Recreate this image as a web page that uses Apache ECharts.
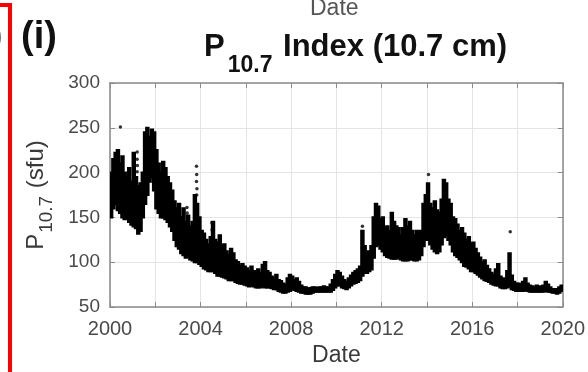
<!DOCTYPE html>
<html>
<head>
<meta charset="utf-8">
<script src="https://cdn.jsdelivr.net/npm/echarts@6/dist/echarts.min.js"></script>
<style>
  html, body { margin: 0; padding: 0; background: #fff; }
  #chart { width: 588px; height: 372px; }
</style>
</head>
<body>
<div id="chart"></div>
<script>
// Daily 10.7 cm solar flux, summarised as the low / high envelope of the
// daily values in consecutive 0.1-year bins starting at 2000.0 (sfu).
const binStart = 2000;
const binWidth = 0.1;

const fluxHigh = [
  200, 215, 222, 225, 210, 218, 200, 195, 205, 190,   // 2000
  222, 195, 185, 188, 200, 245, 250, 240, 248, 245,   // 2001
  225, 210, 200, 212, 205, 195, 188, 180, 168, 160,   // 2002
  165, 150, 160, 145, 152, 140, 145, 175, 165, 150,   // 2003
  135, 132, 125, 120, 128, 145, 125, 122, 130, 118,   // 2004
  120, 112, 108, 115, 110, 102, 100, 96, 98, 95,      // 2005
  93, 90, 95, 90, 88, 92, 88, 97, 100, 90,            // 2006
  88, 84, 82, 86, 80, 79, 76, 75, 82, 86,             // 2007
  84, 80, 82, 78, 74, 72, 72, 70, 71, 72,             // 2008
  72, 71, 72, 72, 73, 72, 72, 75, 80, 86,             // 2009
  90, 88, 84, 80, 78, 82, 85, 88, 90, 92,             // 2010
  95, 135, 118, 110, 112, 118, 150, 165, 162, 148,    // 2011
  150, 138, 140, 135, 155, 145, 140, 138, 130, 138,   // 2012
  148, 140, 145, 135, 130, 135, 132, 135, 165, 175,   // 2013
  188, 165, 160, 168, 158, 155, 170, 192, 188, 170,   // 2014
  165, 150, 148, 142, 135, 138, 132, 125, 128, 120,   // 2015
  122, 115, 110, 105, 100, 102, 96, 92, 88, 86,       // 2016
  92, 98, 84, 82, 80, 90, 110, 85, 78, 76,            // 2017
  76, 75, 78, 82, 76, 74, 73, 72, 74, 72,             // 2018
  73, 74, 78, 75, 72, 70, 70, 70, 72, 74              // 2019
];

const fluxLow = [
  150, 160, 165, 158, 155, 150, 148, 150, 145, 142,   // 2000
  140, 138, 132, 135, 150, 165, 175, 190, 195, 180,   // 2001
  160, 155, 150, 150, 148, 145, 140, 135, 125, 118,   // 2002
  115, 110, 108, 105, 106, 103, 102, 100, 100, 98,    // 2003
  96, 93, 92, 90, 90, 90, 88, 85, 85, 84,             // 2004
  83, 82, 80, 80, 80, 78, 77, 76, 76, 75,             // 2005
  74, 73, 74, 73, 72, 72, 72, 73, 72, 72,             // 2006
  72, 71, 70, 70, 68, 67, 66, 66, 67, 68,             // 2007
  70, 69, 68, 67, 66, 66, 65, 65, 65, 66,             // 2008
  67, 67, 67, 67, 67, 67, 67, 67, 69, 72,             // 2009
  74, 74, 72, 71, 70, 72, 74, 76, 77, 78,             // 2010
  80, 85, 88, 88, 90, 92, 105, 118, 120, 115,         // 2011
  112, 108, 106, 105, 104, 104, 104, 105, 103, 102,   // 2012
  102, 102, 103, 103, 102, 102, 103, 108, 118, 125,   // 2013
  125, 120, 115, 112, 110, 112, 120, 128, 130, 125,   // 2014
  120, 112, 108, 106, 103, 100, 96, 95, 93, 90,       // 2015
  90, 88, 86, 84, 82, 80, 79, 78, 76, 75,             // 2016
  74, 74, 72, 71, 71, 72, 73, 70, 69, 68,             // 2017
  68, 68, 68, 69, 68, 67, 67, 67, 67, 67,             // 2018
  67, 67, 68, 67, 67, 66, 66, 65, 66, 68              // 2019
];

// Isolated daily values standing above the main band (decimal year, sfu)
const isolatedDays = [
  [2000.46, 251], [2001.2, 223], [2001.2, 215], [2001.21, 208], [2001.2, 201],
  [2003.4, 161], [2003.41, 155], [2003.82, 207], [2003.83, 198], [2003.82, 190],
  [2003.84, 182], [2003.83, 175], [2004.5, 144], [2004.51, 136],
  [2011.15, 140], [2014.07, 198], [2017.68, 134]
];

const yearTicks = [2000, 2004, 2008, 2012, 2016, 2020];
const fluxTicks = [50, 100, 150, 200, 250, 300];

const bands = fluxHigh.map((hi, i) => [binStart + (i + 0.5) * binWidth, fluxLow[i], hi]);

const axisGray = '#8a8a8a';
const gridGray = '#e4e4e4';
const labelColor = '#4a4a4a';
const font = '"Liberation Sans", Arial, Helvetica, sans-serif';

const chart = echarts.init(document.getElementById('chart'), null, { renderer: 'canvas' });

const xBase = {
  type: 'value', min: yearTicks[0], max: yearTicks[yearTicks.length - 1], interval: 2
};
const yBase = {
  type: 'value', min: fluxTicks[0], max: fluxTicks[fluxTicks.length - 1], interval: 50
};

chart.setOption({
  animation: false,
  backgroundColor: '#fff',
  textStyle: { fontFamily: font },
  title: {
    left: 199,
    top: 27,
    text: '{p|P}{s|10.7}{p| Index (10.7 cm)}',
    textStyle: {
      rich: {
        p: { fontFamily: font, fontSize: 31, fontWeight: 'bold', color: '#111', lineHeight: 31, verticalAlign: 'top' },
        s: { fontFamily: font, fontSize: 23, fontWeight: 'bold', color: '#111', lineHeight: 23, verticalAlign: 'top', padding: [22, 2, 0, 3] }
      }
    }
  },
  grid: { left: 110, right: 22, top: 83, bottom: 65, show: false },
  xAxis: [
    Object.assign({}, xBase, {
      position: 'bottom',
      name: 'Date',
      nameLocation: 'middle',
      nameGap: 37,
      nameTextStyle: { fontFamily: font, fontSize: 23, color: '#3a3a3a' },
      axisLine: { show: true, onZero: false, lineStyle: { color: axisGray, width: 1.5 } },
      axisTick: { show: true, inside: true, length: 5, lineStyle: { color: axisGray } },
      axisLabel: {
        fontFamily: font, fontSize: 20, color: labelColor, margin: 12,
        formatter: v => (yearTicks.indexOf(v) >= 0 ? String(v) : '')
      },
      splitLine: { show: true, lineStyle: { color: gridGray, width: 1 } }
    }),
    Object.assign({}, xBase, {
      position: 'top',
      axisLine: { show: true, onZero: false, lineStyle: { color: axisGray, width: 1.5 } },
      axisTick: { show: true, inside: true, length: 5, lineStyle: { color: axisGray } },
      axisLabel: { show: false },
      splitLine: { show: false }
    })
  ],
  yAxis: [
    Object.assign({}, yBase, {
      position: 'left',
      name: '{p|P}{s|10.7}{p| (sfu)}',
      nameLocation: 'middle',
      nameRotate: 90,
      nameGap: 62,
      nameTextStyle: {
        rich: {
          p: { fontFamily: font, fontSize: 24, color: '#3a3a3a', lineHeight: 24, verticalAlign: 'top' },
          s: { fontFamily: font, fontSize: 19, color: '#3a3a3a', lineHeight: 19, verticalAlign: 'top', padding: [13, 1, 0, 1] }
        }
      },
      axisLine: { show: true, onZero: false, lineStyle: { color: axisGray, width: 1.5 } },
      axisTick: { show: true, inside: true, length: 5, lineStyle: { color: axisGray } },
      axisLabel: {
        fontFamily: font, fontSize: 19, color: labelColor, margin: 10,
        formatter: v => (fluxTicks.indexOf(v) >= 0 ? String(v) : '')
      },
      splitLine: { show: true, lineStyle: { color: gridGray, width: 1 } }
    }),
    Object.assign({}, yBase, {
      position: 'right',
      axisLine: { show: true, onZero: false, lineStyle: { color: axisGray, width: 1.5 } },
      axisTick: { show: true, inside: true, length: 5, lineStyle: { color: axisGray } },
      axisLabel: { show: false },
      splitLine: { show: false }
    })
  ],
  series: [
    {
      type: 'custom',
      name: 'daily band',
      xAxisIndex: 0,
      yAxisIndex: 0,
      clip: true,
      data: bands,
      renderItem: (params, api) => {
        const t = api.value(0);
        const bottomLeft = api.coord([t - binWidth / 2, api.value(1)]);
        const topRight = api.coord([t + binWidth / 2, api.value(2)]);
        return {
          type: 'rect',
          shape: {
            x: bottomLeft[0],
            y: topRight[1],
            width: topRight[0] - bottomLeft[0],
            height: bottomLeft[1] - topRight[1]
          },
          style: { fill: '#000', stroke: '#000', lineWidth: 2.2 }
        };
      },
      z: 3
    },
    {
      type: 'scatter',
      name: 'isolated days',
      xAxisIndex: 0,
      yAxisIndex: 0,
      data: isolatedDays,
      symbol: 'circle',
      symbolSize: 3.5,
      itemStyle: { color: '#000' },
      z: 4
    }
  ],
  graphic: [
    {
      type: 'text', left: 21, top: 19,
      style: { text: '(i)', fontFamily: font, fontSize: 38, fontWeight: 'bold', fill: '#111' }
    },
    {
      type: 'text', left: 310, top: -3,
      style: { text: 'Date', fontFamily: font, fontSize: 23, fill: '#555' }
    },
    {
      type: 'text', left: -9, top: 20,
      style: { text: ')', fontFamily: font, fontSize: 34, fontWeight: 'bold', fill: '#111' }
    },
    {
      type: 'rect',
      shape: { x: -20, y: 5, width: 30, height: 400 },
      style: { fill: 'none', stroke: '#ff0000', lineWidth: 4 },
      z: 10
    }
  ]
});
</script>
</body>
</html>
